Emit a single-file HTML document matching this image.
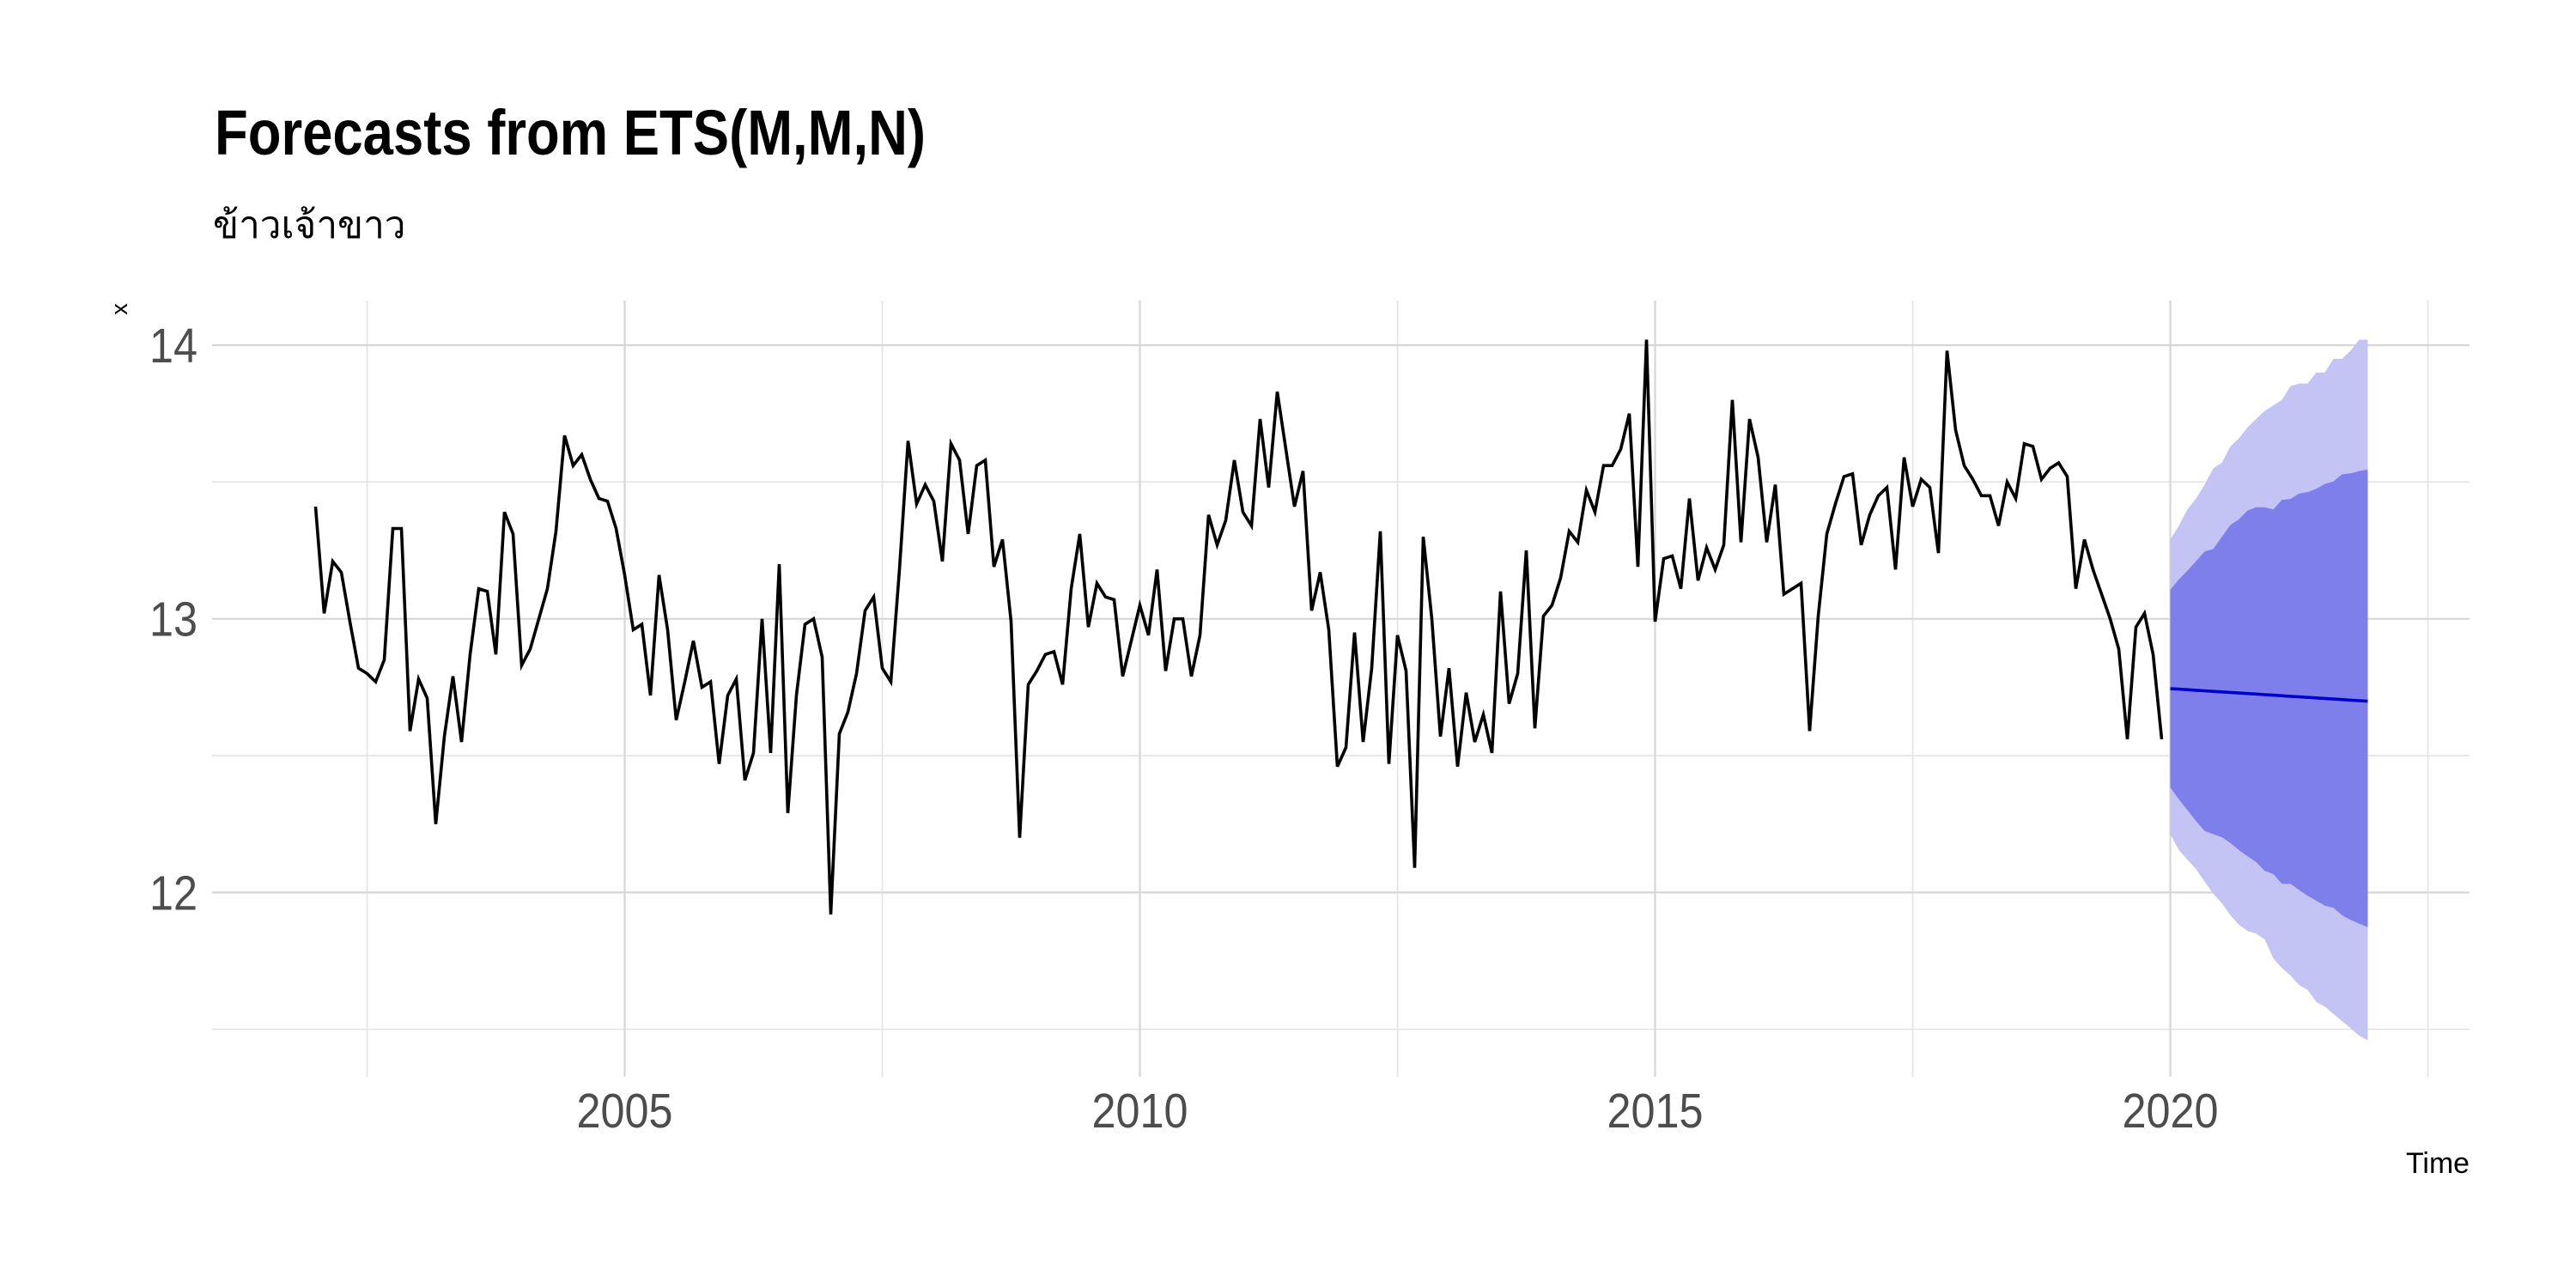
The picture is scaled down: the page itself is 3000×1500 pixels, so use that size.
<!DOCTYPE html>
<html><head><meta charset="utf-8"><style>
html,body{margin:0;padding:0;background:#fff;}
svg{display:block;}
</style></head><body>
<svg id="chart" width="3000" height="1500" viewBox="0 0 3000 1500" xmlns="http://www.w3.org/2000/svg">
<rect x="0" y="0" width="3000" height="1500" fill="#fff"/>
<text x="250" y="180" font-family="Liberation Sans, sans-serif" font-weight="bold" font-size="74" textLength="828" lengthAdjust="spacingAndGlyphs" fill="#000">Forecasts from ETS(M,M,N)</text>
<text x="248" y="277" font-family="Liberation Sans, Noto Sans CJK SC, sans-serif" font-size="44" fill="#000">ข้าวเจ้าขาว</text>
<g id="grid"></g>
<g id="bands"></g>
<g id="lines"></g>
<g id="axes"></g>
<text transform="translate(148,360) rotate(-90)" font-family="Liberation Sans, sans-serif" font-size="27" text-anchor="middle" fill="#000">x</text>
<text x="2876" y="1366" font-family="Liberation Sans, sans-serif" font-size="34" text-anchor="end" textLength="74" lengthAdjust="spacingAndGlyphs" fill="#000">Time</text>
</svg>
<script>
const startYear = 2002;
const observed = [
13.41,13.02,13.21,13.17,12.99,12.82,12.80,12.77,12.85,13.33,13.33,12.59,
12.78,12.71,12.25,12.57,12.79,12.55,12.87,13.11,13.10,12.87,13.39,13.31,
12.83,12.89,13.00,13.11,13.32,13.67,13.56,13.60,13.51,13.44,13.43,13.33,
13.16,12.96,12.98,12.72,13.16,12.96,12.63,12.77,12.92,12.75,12.77,12.47,
12.72,12.78,12.41,12.51,13.00,12.51,13.20,12.29,12.72,12.98,13.00,12.86,
11.92,12.58,12.66,12.80,13.03,13.08,12.82,12.77,13.18,13.65,13.42,13.49,
13.43,13.21,13.64,13.58,13.31,13.56,13.58,13.19,13.29,12.99,12.20,12.76,
12.81,12.87,12.88,12.76,13.11,13.31,12.97,13.13,13.08,13.07,12.79,12.92,
13.05,12.94,13.18,12.81,13.00,13.00,12.79,12.94,13.38,13.27,13.36,13.58,
13.39,13.34,13.73,13.48,13.83,13.62,13.41,13.54,13.03,13.17,12.96,12.46,
12.53,12.95,12.55,12.82,13.32,12.47,12.94,12.81,12.09,13.30,13.00,12.57,
12.82,12.46,12.73,12.55,12.65,12.51,13.10,12.69,12.80,13.25,12.60,13.01,
13.05,13.15,13.32,13.28,13.47,13.39,13.56,13.56,13.62,13.75,13.19,14.02,
12.99,13.22,13.23,13.11,13.44,13.14,13.26,13.18,13.27,13.80,13.28,13.73,
13.59,13.28,13.49,13.09,13.11,13.13,12.59,13.01,13.31,13.42,13.52,13.53,
13.27,13.38,13.45,13.48,13.18,13.59,13.41,13.51,13.48,13.24,13.98,13.69,
13.56,13.51,13.45,13.45,13.34,13.50,13.44,13.64,13.63,13.51,13.55,13.57,
13.52,13.11,13.29,13.18,13.09,13.00,12.89,12.56,12.97,13.02,12.87,12.56];
const fcMean = [12.745,12.743,12.741,12.739,12.737,12.735,12.733,12.731,12.729,12.727,12.725,12.723,
12.721,12.719,12.717,12.715,12.713,12.711,12.709,12.707,12.705,12.703,12.701,12.699];
const hi80 = [13.106,13.144,13.176,13.211,13.246,13.255,13.299,13.343,13.364,13.396,13.408,13.408,
13.400,13.435,13.438,13.458,13.463,13.475,13.493,13.502,13.528,13.532,13.540,13.546];
const lo80 = [12.384,12.340,12.301,12.261,12.225,12.213,12.202,12.181,12.155,12.132,12.111,12.079,
12.067,12.032,12.032,12.009,11.988,11.970,11.952,11.944,11.917,11.900,11.886,11.873];
const hi95 = [13.29,13.34,13.40,13.44,13.49,13.55,13.57,13.63,13.66,13.70,13.73,13.76,
13.78,13.80,13.85,13.86,13.86,13.90,13.90,13.95,13.95,13.98,14.02,14.02];
const lo95 = [12.213,12.155,12.120,12.085,12.040,11.996,11.961,11.917,11.882,11.859,11.850,11.829,
11.759,11.724,11.697,11.662,11.644,11.600,11.583,11.556,11.530,11.504,11.477,11.460];
const xTicks = [2005,2010,2015,2020];
const xMinor = [2002.5,2007.5,2012.5,2017.5,2022.5];
const yTicks = [12,13,14];
const yMinor = [11.5,12.5,13.5];

const NS='http://www.w3.org/2000/svg';
const X = t => 727.5 + (t-2005)*120;
const Y = v => 402 + (14-v)*318.7;
const P = {l:247, r:2876, t:350, b:1254};
function mk(tag, attrs, parent){const e=document.createElementNS(NS,tag);for(const k in attrs)e.setAttribute(k,attrs[k]);parent.appendChild(e);return e;}
const grid=document.getElementById('grid'), bands=document.getElementById('bands'), lines=document.getElementById('lines'), axes=document.getElementById('axes');
yMinor.forEach(v=>{const e=mk('line',{x1:P.l,x2:P.r,y1:Y(v),y2:Y(v),stroke:'#e3e3e3','stroke-width':1.6},grid);

});
xMinor.forEach(t=>{const e=mk('line',{x1:X(t),x2:X(t),y1:P.t,y2:P.b,stroke:'#e3e3e3','stroke-width':1.6},grid);

});
yTicks.forEach(v=>{const e=mk('line',{x1:P.l,x2:P.r,y1:Y(v),y2:Y(v),stroke:'#d6d6d6','stroke-width':2.2},grid);


const t=mk('text',{x:230,y:Y(v)+20,'text-anchor':'end','font-family':'Liberation Sans, sans-serif','font-size':57,fill:'#4d4d4d',textLength:56,lengthAdjust:'spacingAndGlyphs'},axes);
t.textContent=String(v);

});
xTicks.forEach(v=>{const e=mk('line',{x1:X(v),x2:X(v),y1:P.t,y2:P.b,stroke:'#d6d6d6','stroke-width':2.2},grid);


const t=mk('text',{x:X(v),y:1313,'text-anchor':'middle','font-family':'Liberation Sans, sans-serif','font-size':57,fill:'#4d4d4d',textLength:112,lengthAdjust:'spacingAndGlyphs'},axes);
t.textContent=String(v);

});
const fT = i => 2020 + i/12;
function band(hi, lo, color, name){
  let d='';
  hi.forEach((v,i)=>{d+=(i?'L':'M')+X(fT(i)).toFixed(1)+','+Y(v).toFixed(1);});
  for(let i=lo.length-1;i>=0;i--){d+='L'+X(fT(i)).toFixed(1)+','+Y(lo[i]).toFixed(1);}
  const p=mk('path',{d:d+'Z',fill:color},bands);
  
  
}
band(hi95, lo95, '#c4c4f4', 'band-95');
band(hi80, lo80, '#7f7fec', 'band-80');
let d='';
observed.forEach((v,i)=>{d+=(i?'L':'M')+X(startYear+i/12).toFixed(1)+','+Y(v).toFixed(1);});
const obs=mk('path',{d:d,fill:'none',stroke:'#000','stroke-width':3.6,'stroke-linejoin':'miter'},lines);


let dm='';
fcMean.forEach((v,i)=>{dm+=(i?'L':'M')+X(fT(i)).toFixed(1)+','+Y(v).toFixed(1);});
const fm=mk('path',{d:dm,fill:'none',stroke:'#0000cc','stroke-width':3.6},lines);


</script>
</body></html>
